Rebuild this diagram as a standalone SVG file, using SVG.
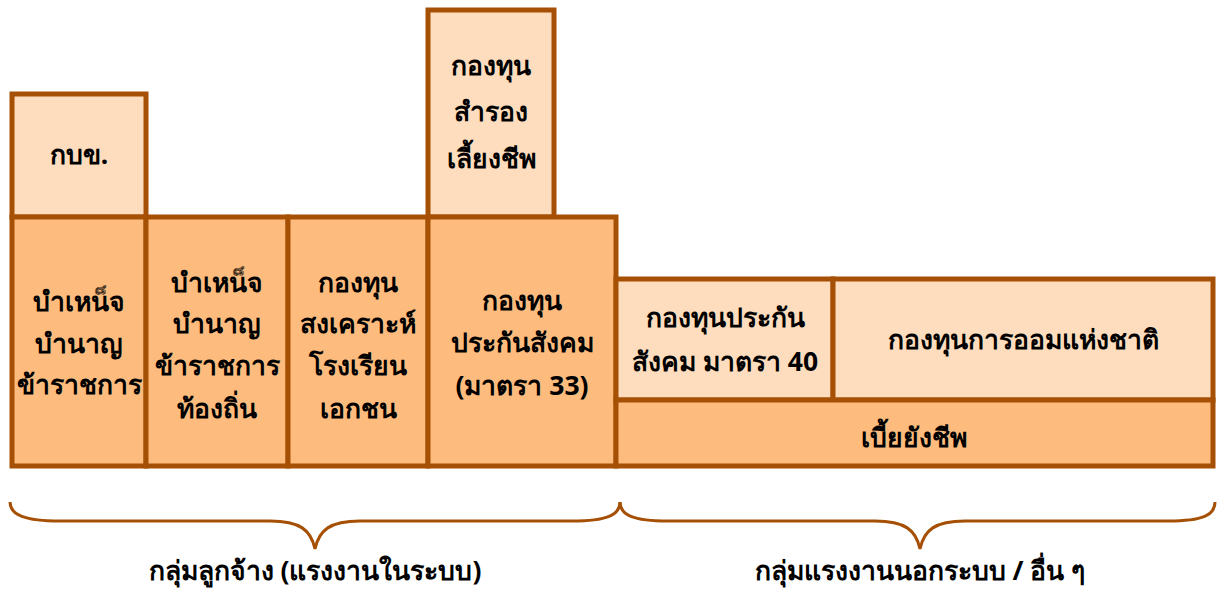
<svg xmlns="http://www.w3.org/2000/svg" width="1218" height="590" viewBox="0 0 1218 590">
<style>
.b{stroke:#A65005;stroke-width:5}
.l{fill:#FDDDBD}
.o{fill:#FDBC7E}
text{font-family:"Noto Sans","Liberation Sans",sans-serif;font-weight:bold;font-size:26.5px;fill:#000;text-anchor:middle}
.br{fill:none;stroke:#A65005;stroke-width:3}
</style>
<rect width="1218" height="590" fill="#fff"/>
<g id="n-kbk"><rect class="b l" x="12" y="94" width="134" height="123"/><text x="79" y="164">กบข.</text></g>
<g id="n-pvd"><rect class="b l" x="428" y="10" width="126" height="207"/>
<text x="491" y="75">กองทุน</text><text x="491" y="121">สำรอง</text><text x="491" y="168">เลี้ยงชีพ</text></g>
<g id="n-gov"><rect class="b o" x="12" y="217" width="134" height="249"/>
<text x="79" y="311">บำเหน็จ</text><text x="79" y="353">บำนาญ</text><text x="79" y="394">ข้าราชการ</text></g>
<g id="n-local"><rect class="b o" x="146" y="217" width="142" height="249"/>
<text x="217" y="292">บำเหน็จ</text><text x="217" y="333">บำนาญ</text><text x="217" y="375">ข้าราชการ</text><text x="217" y="418">ท้องถิ่น</text></g>
<g id="n-school"><rect class="b o" x="288" y="217" width="140" height="249"/>
<text x="358" y="292">กองทุน</text><text x="358" y="333">สงเคราะห์</text><text x="358" y="375">โรงเรียน</text><text x="358" y="418">เอกชน</text></g>
<g id="n-ss33"><rect class="b o" x="428" y="217" width="188" height="249"/>
<text x="522" y="310">กองทุน</text><text x="522" y="352">ประกันสังคม</text><text x="522" y="395">(มาตรา 33)</text></g>
<g id="n-ss40"><rect class="b l" x="616" y="279" width="217" height="121"/>
<text x="725" y="327">กองทุนประกัน</text><text x="725" y="371">สังคม มาตรา 40</text></g>
<g id="n-nsf"><rect class="b l" x="833" y="279" width="380" height="121"/>
<text x="1023" y="349">กองทุนการออมแห่งชาติ</text></g>
<g id="n-allow"><rect class="b o" x="616" y="400" width="597" height="66"/>
<text x="914" y="447">เบี้ยยังชีพ</text></g>
<g id="connectors">
<path class="br" d="M10,502 C10,515 25,521 60,521 L270,521 C300,521 311,530 315,549 C319,530 330,521 360,521 L572,521 C607,521 620,515 620,502"/>
<path class="br" d="M620,502 C620,515 633,521 668,521 L875,521 C905,521 916,530 920,549 C924,530 935,521 965,521 L1168,521 C1203,521 1215,515 1215,502"/>
</g>
<g id="labels">
<text x="315" y="580">กลุ่มลูกจ้าง (แรงงานในระบบ)</text>
<text x="920" y="580">กลุ่มแรงงานนอกระบบ / อื่น ๆ</text>
</g>
</svg>
